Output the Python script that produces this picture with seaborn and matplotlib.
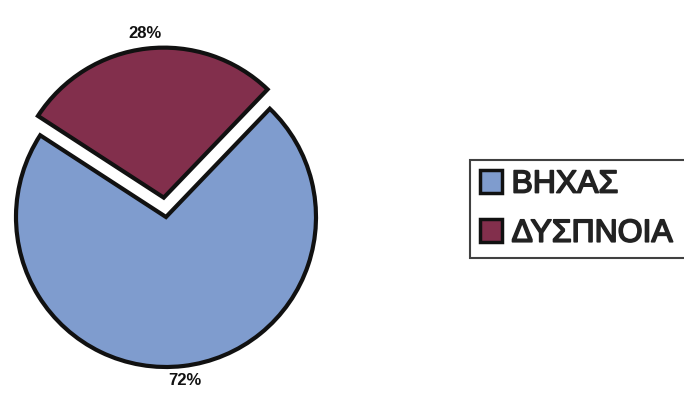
import matplotlib
matplotlib.use("Agg")
import matplotlib.pyplot as plt
import matplotlib.patheffects as pe
from matplotlib.patches import Patch
import seaborn as sns

# Symptom shares (%)
categories = ["ΒΗΧΑΣ", "ΔΥΣΠΝΟΙΑ"]
shares = [72, 28]
explode_amount = [0.0, 0.13]

sns.set_theme(style="white")
plt.rcParams["font.family"] = ["Liberation Sans", "DejaVu Sans"]

colors = ["#7F9CCE", "#822F4C"]

fig = plt.figure(figsize=(6.84, 3.97), dpi=100)
fig.patch.set_facecolor("white")

ax = fig.add_axes([16 / 684, 30 / 397, 300 / 684, 300 / 397])
wedges, texts, autotexts = ax.pie(
    shares,
    colors=colors,
    startangle=147,
    explode=explode_amount,
    autopct=lambda p: f"{p:.0f}%",
    pctdistance=1.1,
    wedgeprops=dict(edgecolor="#111111", linewidth=3),
    textprops=dict(fontsize=12, fontweight="bold", color="#111111"),
)
ax.set_xlim(-1, 1)
ax.set_ylim(-1, 1)
ax.set_aspect("equal")
ax.axis("off")
for w in wedges:
    w.set_clip_on(False)
for t in autotexts:
    t.set_clip_on(False)

handles = [Patch(facecolor=c, edgecolor="#111111", linewidth=2.5) for c in colors]
leg = fig.legend(
    handles,
    categories,
    loc="upper left",
    bbox_to_anchor=(470 / 684, 1 - 160 / 397, 240 / 684, 0.0),
    mode="expand",
    frameon=True,
    fancybox=False,
    fontsize=23,
    handlelength=0.7,
    handleheight=0.7,
    handletextpad=0.3,
    labelspacing=0.6,
    borderpad=0.3,
    borderaxespad=0.0,
)
leg.get_frame().set_edgecolor("#111111")
leg.get_frame().set_linewidth(1.5)
for t in leg.get_texts():
    t.set_color("#222222")
    t.set_path_effects([pe.withStroke(linewidth=1.2, foreground="#222222")])

fig.savefig("out.png", dpi=100, facecolor="white")
